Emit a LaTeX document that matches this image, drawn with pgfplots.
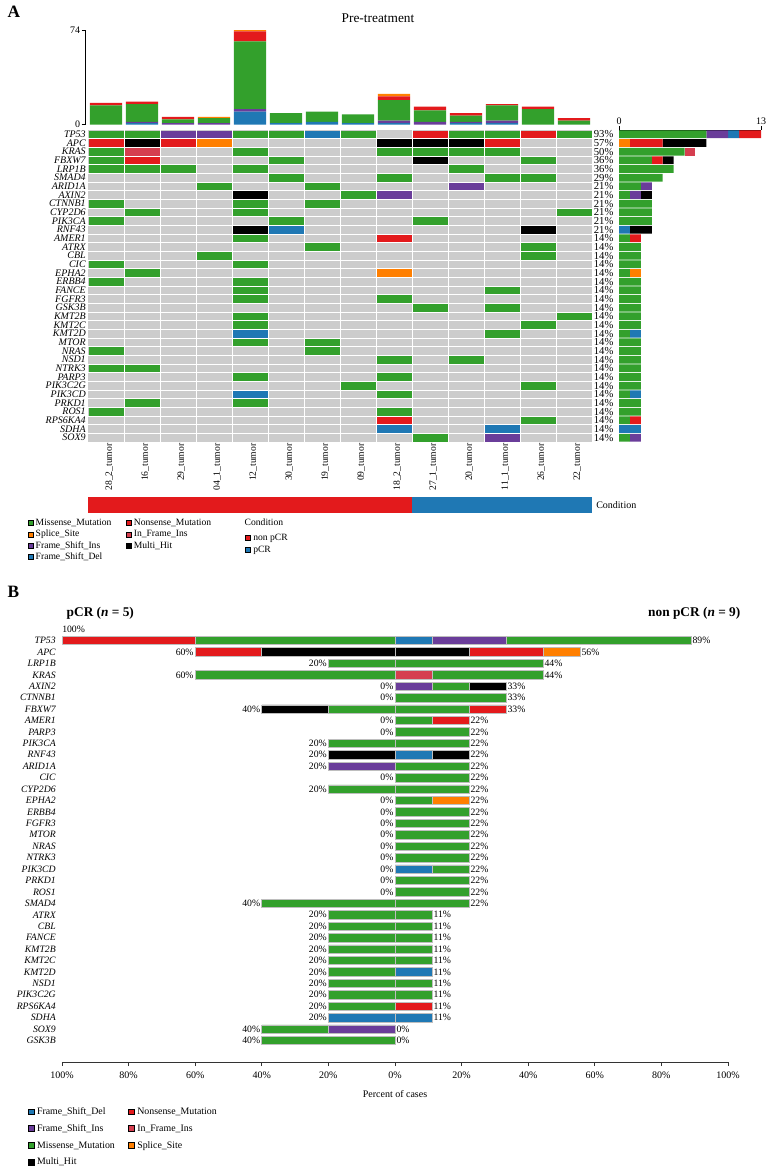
\documentclass[border=0pt]{standalone}
\usepackage{fontspec}
\setmainfont{Liberation Serif}
\usepackage{pgfplots}
\usepackage{pgfplotstable}
\pgfplotsset{compat=1.18}

% maftools palette
\definecolor{cMis}{HTML}{33A02C}
\definecolor{cNon}{HTML}{E31A1C}
\definecolor{cSpl}{HTML}{FF7F00}
\definecolor{cFsi}{HTML}{6A3D9A}
\definecolor{cFsd}{HTML}{1F78B4}
\definecolor{cIfi}{HTML}{D53E4F}
\definecolor{cMh}{HTML}{000000}
\definecolor{cGrey}{HTML}{CCCCCC}
\definecolor{cBorder}{HTML}{BEBEBE}

\pgfdeclareplotmark{cell}{%
  \pgfpathrectangle{\pgfqpoint{-13.125pt}{-2.875pt}}{\pgfqpoint{26.25pt}{5.75pt}}%
  \pgfusepathqfill}

\pgfplotsset{
  /pgf/number format/assume math mode=true,
  Bgeom/.style={at={(46.5pt,-467.55pt)}, anchor=north west, scale only axis,
    width=499.5pt, height=329.1pt, xmin=-100, xmax=100, ymin=-1.9, ymax=36.5},
  Bbar/.style={draw=cBorder, line width=0.5pt},
}

% mutations per sample (top bars)
\pgfplotstableread{
x  fsd fsi mis non spl
0  0   0   15  2   0
1  1   1   14  2   0
2  0   1   3   2   0
3  0   1   4   0   1
4  10  2   53  8   1
5  1   0   8   0   0
6  2   0   8   0   0
7  1   0   7   0   0
8  1   2   16  3   2
9  0   2   9   3   0
10 1   1   5   2   0
11 1   2   12  1   0
12 0   0   12  2   0
13 0   0   3   2   0
}\tmbtab

% oncoprint cells: sample index, gene row (35 = TP53), class
\pgfplotstableread[row sep=\\]{
x y c\\
0 35 mis\\ 1 35 mis\\ 2 35 fsi\\ 3 35 fsi\\ 4 35 mis\\ 5 35 mis\\ 6 35 fsd\\ 7 35 mis\\ 9 35 non\\ 10 35 mis\\ 11 35 mis\\ 12 35 non\\ 13 35 mis\\
0 34 non\\ 1 34 mh\\ 2 34 non\\ 3 34 spl\\ 8 34 mh\\ 9 34 mh\\ 10 34 mh\\ 11 34 non\\
0 33 mis\\ 1 33 ifi\\ 4 33 mis\\ 8 33 mis\\ 9 33 mis\\ 10 33 mis\\ 11 33 mis\\
0 32 mis\\ 1 32 non\\ 5 32 mis\\ 9 32 mh\\ 12 32 mis\\
0 31 mis\\ 1 31 mis\\ 2 31 mis\\ 4 31 mis\\ 10 31 mis\\
5 30 mis\\ 8 30 mis\\ 11 30 mis\\ 12 30 mis\\
3 29 mis\\ 6 29 mis\\ 10 29 fsi\\
4 28 mh\\ 7 28 mis\\ 8 28 fsi\\
0 27 mis\\ 4 27 mis\\ 6 27 mis\\
1 26 mis\\ 4 26 mis\\ 13 26 mis\\
0 25 mis\\ 5 25 mis\\ 9 25 mis\\
4 24 mh\\ 5 24 fsd\\ 12 24 mh\\
4 23 mis\\ 8 23 non\\
6 22 mis\\ 12 22 mis\\
3 21 mis\\ 12 21 mis\\
0 20 mis\\ 4 20 mis\\
1 19 mis\\ 8 19 spl\\
0 18 mis\\ 4 18 mis\\
4 17 mis\\ 11 17 mis\\
4 16 mis\\ 8 16 mis\\
9 15 mis\\ 11 15 mis\\
4 14 mis\\ 13 14 mis\\
4 13 mis\\ 12 13 mis\\
4 12 fsd\\ 11 12 mis\\
4 11 mis\\ 6 11 mis\\
0 10 mis\\ 6 10 mis\\
8 9 mis\\ 10 9 mis\\
0 8 mis\\ 1 8 mis\\
4 7 mis\\ 8 7 mis\\
7 6 mis\\ 12 6 mis\\
4 5 fsd\\ 8 5 mis\\
1 4 mis\\ 4 4 mis\\
0 3 mis\\ 8 3 mis\\
8 2 non\\ 12 2 mis\\
8 1 fsd\\ 11 1 fsd\\
9 0 mis\\ 11 0 fsi\\
}\celltab

% samples mutated per gene, by type (right bars)
\pgfplotstableread{
y  mis spl fsi fsd ifi non mh
35 8   0   2   1   0   2   0
34 0   1   0   0   0   3   4
33 6   0   0   0   1   0   0
32 3   0   0   0   0   1   1
31 5   0   0   0   0   0   0
30 4   0   0   0   0   0   0
29 2   0   1   0   0   0   0
28 1   0   1   0   0   0   1
27 3   0   0   0   0   0   0
26 3   0   0   0   0   0   0
25 3   0   0   0   0   0   0
24 0   0   0   1   0   0   2
23 1   0   0   0   0   1   0
22 2   0   0   0   0   0   0
21 2   0   0   0   0   0   0
20 2   0   0   0   0   0   0
19 1   1   0   0   0   0   0
18 2   0   0   0   0   0   0
17 2   0   0   0   0   0   0
16 2   0   0   0   0   0   0
15 2   0   0   0   0   0   0
14 2   0   0   0   0   0   0
13 2   0   0   0   0   0   0
12 1   0   0   1   0   0   0
11 2   0   0   0   0   0   0
10 2   0   0   0   0   0   0
9  2   0   0   0   0   0   0
8  2   0   0   0   0   0   0
7  2   0   0   0   0   0   0
6  2   0   0   0   0   0   0
5  1   0   0   1   0   0   0
4  2   0   0   0   0   0   0
3  2   0   0   0   0   0   0
2  1   0   0   0   0   1   0
1  0   0   0   2   0   0   0
0  1   0   1   0   0   0   0
}\rbtab

% panel B: percent of cases, pCR (negative) and non pCR (positive)
\pgfplotstableread{
y  Lfsi Lmis Lmh Lnon Lfsd Rfsd  Rfsi  Rifi  Rmis  Rmh   Rnon  Rspl
35 0    -60  0   -40  0    11.11 22.22 0     55.56 0     0     0
34 0    0    -40 -20  0    0     0     0     0     22.22 22.22 11.11
33 0    -20  0   0    0    0     0     0     44.44 0     0     0
32 0    -60  0   0    0    0     0     11.11 33.33 0     0     0
31 0    0    0   0    0    0     11.11 0     11.11 11.11 0     0
30 0    0    0   0    0    0     0     0     33.33 0     0     0
29 0    -20  -20 0    0    0     0     0     22.22 0     11.11 0
28 0    0    0   0    0    0     0     0     11.11 0     11.11 0
27 0    0    0   0    0    0     0     0     22.22 0     0     0
26 0    -20  0   0    0    0     0     0     22.22 0     0     0
25 0    0    -20 0    0    11.11 0     0     0     11.11 0     0
24 -20  0    0   0    0    0     0     0     22.22 0     0     0
23 0    0    0   0    0    0     0     0     22.22 0     0     0
22 0    -20  0   0    0    0     0     0     22.22 0     0     0
21 0    0    0   0    0    0     0     0     11.11 0     0     11.11
20 0    0    0   0    0    0     0     0     22.22 0     0     0
19 0    0    0   0    0    0     0     0     22.22 0     0     0
18 0    0    0   0    0    0     0     0     22.22 0     0     0
17 0    0    0   0    0    0     0     0     22.22 0     0     0
16 0    0    0   0    0    0     0     0     22.22 0     0     0
15 0    0    0   0    0    11.11 0     0     11.11 0     0     0
14 0    0    0   0    0    0     0     0     22.22 0     0     0
13 0    0    0   0    0    0     0     0     22.22 0     0     0
12 0    -40  0   0    0    0     0     0     22.22 0     0     0
11 0    -20  0   0    0    0     0     0     11.11 0     0     0
10 0    -20  0   0    0    0     0     0     11.11 0     0     0
9  0    -20  0   0    0    0     0     0     11.11 0     0     0
8  0    -20  0   0    0    0     0     0     11.11 0     0     0
7  0    -20  0   0    0    0     0     0     11.11 0     0     0
6  0    -20  0   0    0    11.11 0     0     0     0     0     0
5  0    -20  0   0    0    0     0     0     11.11 0     0     0
4  0    -20  0   0    0    0     0     0     11.11 0     0     0
3  0    -20  0   0    0    0     0     0     0     0     11.11 0
2  0    0    0   0    -20  11.11 0     0     0     0     0     0
1  -20  -20  0   0    0    0     0     0     0     0     0     0
0  0    -40  0   0    0    0     0     0     0     0     0     0
}\btab

% panel B totals for the labels
\pgfplotstableread{
y  lx   ll  rx    rl
35 nan  100 88.89 89
34 -60  60  55.56 56
33 -20  20  44.44 44
32 -60  60  44.44 44
31 0    0   33.33 33
30 0    0   33.33 33
29 -40  40  33.33 33
28 0    0   22.22 22
27 0    0   22.22 22
26 -20  20  22.22 22
25 -20  20  22.22 22
24 -20  20  22.22 22
23 0    0   22.22 22
22 -20  20  22.22 22
21 0    0   22.22 22
20 0    0   22.22 22
19 0    0   22.22 22
18 0    0   22.22 22
17 0    0   22.22 22
16 0    0   22.22 22
15 0    0   22.22 22
14 0    0   22.22 22
13 0    0   22.22 22
12 -40  40  22.22 22
11 -20  20  11.11 11
10 -20  20  11.11 11
9  -20  20  11.11 11
8  -20  20  11.11 11
7  -20  20  11.11 11
6  -20  20  11.11 11
5  -20  20  11.11 11
4  -20  20  11.11 11
3  -20  20  11.11 11
2  -20  20  11.11 11
1  -40  40  0     0
0  -40  40  0     0
}\blab

\newcommand\fGeneA{\fontsize{7.5}{8}\selectfont\itshape}
\newcommand\fGeneB{\fontsize{7.3}{8}\selectfont\itshape}
\newcommand\fSmall{\fontsize{7.5}{8}\selectfont}

\begin{document}
\begin{tikzpicture}
\path[use as bounding box] (0,0) rectangle (573.75pt,-875.25pt);

\node[anchor=base west, font=\fontsize{13}{13}\selectfont\bfseries] at (2.25pt,-12.75pt) {A};
\node[font=\fontsize{10}{10}\selectfont] at (283.5pt,-13.5pt) {Pre-treatment};

% ---- top bars: mutations per sample
\begin{axis}[at={(63.75pt,-22.5pt)}, anchor=north west, scale only axis,
  width=380.25pt, height=70.875pt,
  xmin=-0.5833, xmax=13.5, ymin=0, ymax=74,
  ybar stacked, bar width=0.9,
  axis x line=none, axis y line*=left,
  ytick={0,74}, tick align=outside, major tick length=2.5pt,
  ytick style={black}, axis line style={black, line width=0.6pt},
  yticklabel style={font=\fSmall, inner sep=1pt}]
\addplot[fill=cFsd, draw=none] table[x=x, y=fsd] {\tmbtab};
\addplot[fill=cFsi, draw=none] table[x=x, y=fsi] {\tmbtab};
\addplot[fill=cMis, draw=none] table[x=x, y=mis] {\tmbtab};
\addplot[fill=cNon, draw=none] table[x=x, y=non] {\tmbtab};
\addplot[fill=cSpl, draw=none] table[x=x, y=spl] {\tmbtab};
\end{axis}

% ---- oncoprint grid
\begin{axis}[at={(66pt,-97.5pt)}, anchor=north west, scale only axis,
  width=378pt, height=234pt,
  xmin=-0.5, xmax=13.5, ymin=-0.5, ymax=35.5,
  axis background/.style={fill=cGrey},
  axis line style={draw=none},
  xtick={0,...,13},
  xticklabels={28\_2\_tumor,16\_tumor,29\_tumor,04\_1\_tumor,12\_tumor,30\_tumor,19\_tumor,09\_tumor,18\_2\_tumor,27\_1\_tumor,20\_tumor,11\_1\_tumor,26\_tumor,22\_tumor},
  ytick={0,...,35},
  yticklabels={SOX9,SDHA,RPS6KA4,ROS1,PRKD1,PIK3CD,PIK3C2G,PARP3,NTRK3,NSD1,NRAS,MTOR,KMT2D,KMT2C,KMT2B,GSK3B,FGFR3,FANCE,ERBB4,EPHA2,CIC,CBL,ATRX,AMER1,RNF43,PIK3CA,CYP2D6,CTNNB1,AXIN2,ARID1A,SMAD4,LRP1B,FBXW7,KRAS,APC,TP53},
  minor xtick={0.5,1.5,...,12.5}, minor ytick={0.5,1.5,...,34.5},
  xminorgrids, yminorgrids, minor grid style={white, line width=0.75pt},
  major tick length=0pt, minor tick length=0pt, tick style={draw=none},
  xticklabel style={rotate=90, anchor=east, font=\fontsize{7.2}{8}\selectfont, inner sep=1pt, yshift=-2.5pt},
  yticklabel style={font=\fGeneA, inner sep=1.5pt}]
\addplot[only marks, scatter, scatter src=explicit symbolic,
  scatter/classes={
    mis={mark=cell, cMis}, non={mark=cell, cNon}, spl={mark=cell, cSpl},
    fsi={mark=cell, cFsi}, fsd={mark=cell, cFsd}, ifi={mark=cell, cIfi},
    mh={mark=cell, cMh}}]
  table[x=x, y=y, meta=c] {\celltab};
\end{axis}

% ---- right bars: samples per gene
\begin{axis}[at={(464.25pt,-97.5pt)}, anchor=north west, scale only axis,
  width=106.5pt, height=234pt,
  xmin=0, xmax=13, ymin=-0.5, ymax=35.5,
  xbar stacked, bar width=5.85pt,
  axis x line*=top, axis y line*=left,
  y axis line style={draw=none}, x axis line style={black, line width=0.6pt},
  ytick style={draw=none}, xtick style={black},
  xtick={0,13}, tick align=outside, major tick length=3pt,
  ytick={0,...,35},
  yticklabels={14\%,14\%,14\%,14\%,14\%,14\%,14\%,14\%,14\%,14\%,14\%,14\%,14\%,14\%,14\%,14\%,14\%,14\%,14\%,14\%,14\%,14\%,14\%,14\%,21\%,21\%,21\%,21\%,21\%,21\%,29\%,36\%,36\%,50\%,57\%,93\%},
  yticklabel style={font=\fontsize{8}{8}\selectfont, inner sep=1pt},
  xticklabel style={font=\fSmall, inner sep=1pt}]
\addplot[fill=cMis, draw=none] table[x=mis, y=y] {\rbtab};
\addplot[fill=cSpl, draw=none] table[x=spl, y=y] {\rbtab};
\addplot[fill=cFsi, draw=none] table[x=fsi, y=y] {\rbtab};
\addplot[fill=cFsd, draw=none] table[x=fsd, y=y] {\rbtab};
\addplot[fill=cIfi, draw=none] table[x=ifi, y=y] {\rbtab};
\addplot[fill=cNon, draw=none] table[x=non, y=y] {\rbtab};
\addplot[fill=cMh, draw=none] table[x=mh, y=y] {\rbtab};
\end{axis}

% ---- condition bar
\begin{axis}[at={(66pt,-372.75pt)}, anchor=north west, scale only axis,
  width=378pt, height=11.625pt,
  xmin=0, xmax=14, ymin=-0.5, ymax=0.5,
  xbar stacked, bar width=11.625pt,
  axis x line=none, axis y line*=right, y axis line style={draw=none},
  ytick={0}, yticklabels={Condition}, ytick style={draw=none},
  major tick length=0pt, yticklabel style={font=\fSmall, inner sep=3pt}]
\addplot[fill=cNon, draw=none] coordinates {(9,0)};
\addplot[fill=cFsd, draw=none] coordinates {(5,0)};
\end{axis}

% ---- legend A
\begin{axis}[at={(21pt,-389pt)}, anchor=north west, scale only axis,
  width=1pt, height=1pt, hide axis, xmin=0, xmax=1, ymin=0, ymax=1,
  legend columns=2, legend cell align=left,
  legend image code/.code={\fill[#1] (0pt,-1.9pt) rectangle (3.8pt,1.9pt);},
  legend style={at={(0,1)}, anchor=north west, draw=none, fill=none,
    inner sep=0pt, outer sep=0pt, font=\fontsize{7.2}{8}\selectfont,
    nodes={inner sep=0pt, text height=5.2pt, text depth=1.6pt}, row sep=1.7pt,
    /tikz/every odd column/.append style={column sep=1.6pt},
    /tikz/every even column/.append style={column sep=11pt}}]
\addlegendimage{fill=cMis}\addlegendentry{Missense\_Mutation}
\addlegendimage{fill=cNon}\addlegendentry{Nonsense\_Mutation}
\addlegendimage{fill=cSpl}\addlegendentry{Splice\_Site}
\addlegendimage{fill=cIfi}\addlegendentry{In\_Frame\_Ins}
\addlegendimage{fill=cFsi}\addlegendentry{Frame\_Shift\_Ins}
\addlegendimage{fill=cMh}\addlegendentry{Multi\_Hit}
\addlegendimage{fill=cFsd}\addlegendentry{Frame\_Shift\_Del}
\end{axis}

\node[anchor=base west, font=\fontsize{7.2}{8}\selectfont] at (180pt,-394pt) {Condition};
\begin{axis}[at={(183.75pt,-400pt)}, anchor=north west, scale only axis,
  width=1pt, height=1pt, hide axis, xmin=0, xmax=1, ymin=0, ymax=1,
  legend cell align=left,
  legend image code/.code={\fill[#1] (0pt,-1.9pt) rectangle (3.8pt,1.9pt);},
  legend style={at={(0,1)}, anchor=north west, draw=none, fill=none,
    inner sep=0pt, outer sep=0pt, font=\fontsize{7.2}{8}\selectfont,
    nodes={inner sep=0pt, text height=5.2pt, text depth=1.6pt}, row sep=2.2pt,
    /tikz/every odd column/.append style={column sep=2pt}}]
\addlegendimage{fill=cNon}\addlegendentry{non pCR}
\addlegendimage{fill=cFsd}\addlegendentry{pCR}
\end{axis}

% ================= panel B
\node[anchor=base west, font=\fontsize{13}{13}\selectfont\bfseries] at (2.25pt,-447.75pt) {B};
\node[anchor=base west, font=\fontsize{10}{10}\selectfont\bfseries] at (46.5pt,-462pt) {pCR (\textit{n} = 5)};
\node[anchor=base east, font=\fontsize{10}{10}\selectfont\bfseries] at (558.75pt,-462pt) {non pCR (\textit{n} = 9)};

\begin{axis}[Bgeom, hide axis, xbar stacked, bar width=6.3pt]
\addplot[fill=cFsi, Bbar] table[x=Lfsi, y=y] {\btab};
\addplot[fill=cMis, Bbar] table[x=Lmis, y=y] {\btab};
\addplot[fill=cMh,  Bbar] table[x=Lmh,  y=y] {\btab};
\addplot[fill=cNon, Bbar] table[x=Lnon, y=y] {\btab};
\addplot[fill=cFsd, Bbar] table[x=Lfsd, y=y] {\btab};
\end{axis}

\begin{axis}[Bgeom, hide axis, xbar stacked, bar width=6.3pt]
\addplot[fill=cFsd, Bbar] table[x=Rfsd, y=y] {\btab};
\addplot[fill=cFsi, Bbar] table[x=Rfsi, y=y] {\btab};
\addplot[fill=cIfi, Bbar] table[x=Rifi, y=y] {\btab};
\addplot[fill=cMis, Bbar] table[x=Rmis, y=y] {\btab};
\addplot[fill=cMh,  Bbar] table[x=Rmh,  y=y] {\btab};
\addplot[fill=cNon, Bbar] table[x=Rnon, y=y] {\btab};
\addplot[fill=cSpl, Bbar] table[x=Rspl, y=y] {\btab};
\end{axis}

\begin{axis}[Bgeom, clip=false,
  axis x line*=bottom, axis y line*=left,
  y axis line style={draw=none}, x axis line style={black!80, line width=0.6pt},
  ytick={0,...,35},
  yticklabels={GSK3B,SOX9,SDHA,RPS6KA4,PIK3C2G,NSD1,KMT2D,KMT2C,KMT2B,FANCE,CBL,ATRX,SMAD4,ROS1,PRKD1,PIK3CD,NTRK3,NRAS,MTOR,FGFR3,ERBB4,EPHA2,CYP2D6,CIC,ARID1A,RNF43,PIK3CA,PARP3,AMER1,FBXW7,CTNNB1,AXIN2,KRAS,LRP1B,APC,TP53},
  ytick style={draw=none},
  xtick={-100,-80,-60,-40,-20,0,20,40,60,80,100},
  xticklabels={100\%,80\%,60\%,40\%,20\%,0\%,20\%,40\%,60\%,80\%,100\%},
  tick align=outside, major tick length=3pt, xtick style={black!80, line width=0.6pt},
  xticklabel style={font=\fSmall, inner sep=1.5pt, yshift=-2.5pt},
  yticklabel style={font=\fGeneB, inner sep=1.5pt},
  xlabel={Percent of cases}, xlabel style={font=\fSmall, inner sep=1pt, yshift=-6pt}]
\addplot[only marks, mark=none, point meta=explicit,
  nodes near coords={\pgfmathprintnumber{\pgfplotspointmeta}\%},
  nodes near coords style={anchor=east, inner sep=1pt, text=black, font=\fontsize{7.3}{8}\selectfont}]
  table[x=lx, y=y, meta=ll] {\blab};
\addplot[only marks, mark=none, point meta=explicit,
  nodes near coords={\pgfmathprintnumber{\pgfplotspointmeta}\%},
  nodes near coords style={anchor=west, inner sep=1pt, text=black, font=\fontsize{7.3}{8}\selectfont}]
  table[x=rx, y=y, meta=rl] {\blab};
\addplot[only marks, mark=none, point meta=explicit,
  nodes near coords={\pgfmathprintnumber{\pgfplotspointmeta}\%},
  nodes near coords style={anchor=west, inner sep=0pt, text=black, font=\fontsize{7.3}{8}\selectfont}]
  coordinates {(-100,36) [100]};
\end{axis}

% ---- legend B
\begin{axis}[at={(21pt,-830.3pt)}, anchor=north west, scale only axis,
  width=1pt, height=1pt, hide axis, xmin=0, xmax=1, ymin=0, ymax=1,
  legend columns=2, legend cell align=left,
  legend image code/.code={\fill[#1] (0pt,-2.2pt) rectangle (4.4pt,2.2pt);},
  legend style={at={(0,1)}, anchor=north west, draw=none, fill=none,
    inner sep=0pt, outer sep=0pt, font=\fontsize{7.4}{8}\selectfont,
    nodes={inner sep=0pt, text height=5.3pt, text depth=1.7pt}, row sep=5.7pt,
    /tikz/every odd column/.append style={column sep=2pt},
    /tikz/every even column/.append style={column sep=10pt}}]
\addlegendimage{fill=cFsd}\addlegendentry{Frame\_Shift\_Del}
\addlegendimage{fill=cNon}\addlegendentry{Nonsense\_Mutation}
\addlegendimage{fill=cFsi}\addlegendentry{Frame\_Shift\_Ins}
\addlegendimage{fill=cIfi}\addlegendentry{In\_Frame\_Ins}
\addlegendimage{fill=cMis}\addlegendentry{Missense\_Mutation}
\addlegendimage{fill=cSpl}\addlegendentry{Splice\_Site}
\addlegendimage{fill=cMh}\addlegendentry{Multi\_Hit}
\end{axis}
\end{tikzpicture}
\end{document}
